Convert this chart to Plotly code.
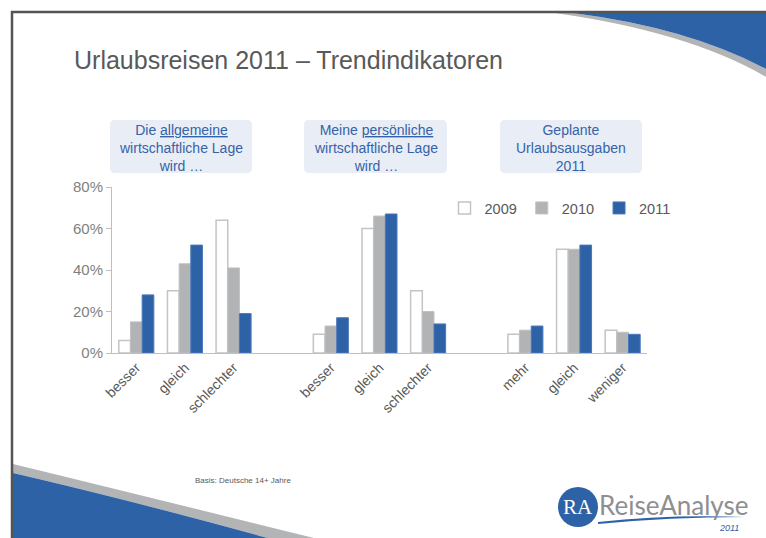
import plotly.graph_objects as go

# ---------------- data ----------------
years = ["2009", "2010", "2011"]
group_titles = [
    "Die <u>allgemeine</u><br>wirtschaftliche Lage<br>wird …",
    "Meine <u>persönliche</u><br>wirtschaftliche Lage<br>wird …",
    "Geplante<br>Urlaubsausgaben<br>2011",
]
cat_labels = [
    ["besser", "gleich", "schlechter"],
    ["besser", "gleich", "schlechter"],
    ["mehr", "gleich", "weniger"],
]
v2009 = [6, 30, 64, 9, 60, 30, 9, 50, 11]
v2010 = [15, 43, 41, 13, 66, 20, 11, 50, 10]
v2011 = [28, 52, 19, 17, 67, 14, 13, 52, 9]
y_ticks = [0, 20, 40, 60, 80]
title_text = "Urlaubsreisen 2011 – Trendindikatoren"
footnote = "Basis: Deutsche 14+ Jahre"

# ---------------- layout helpers ----------------
W, H = 766, 538
L, R, T, B = 112, 647, 187, 353


def px(x):
    return (x - L) / (R - L)


def py(y):
    return (B - y) / (B - T)


def path(cmds):
    out = []
    for c in cmds:
        if isinstance(c, str):
            out.append(c)
        else:
            out.append(f"{px(c[0]):.5f},{py(c[1]):.5f}")
    return " ".join(out)


def rounded_rect(x0, y0, x1, y1, r):
    return path([
        "M", (x0 + r, y0), "L", (x1 - r, y0), "Q", (x1, y0), (x1, y0 + r),
        "L", (x1, y1 - r), "Q", (x1, y1), (x1 - r, y1),
        "L", (x0 + r, y1), "Q", (x0, y1), (x0, y1 - r),
        "L", (x0, y0 + r), "Q", (x0, y0), (x0 + r, y0), "Z",
    ])


# x positions: three groups of three categories separated by an empty slot
xpos, xtext = [], []
for g, labs in enumerate(cat_labels):
    for i, lab in enumerate(labs):
        xpos.append(g * 4 + i)
        xtext.append(lab)

BLUE = "#2e62a7"
GREY = "#b2b3b5"
TXT = "#595959"
FONT = "Liberation Sans, Arial, sans-serif"

fig = go.Figure()
fig.add_trace(go.Bar(x=xpos, y=v2009, name=years[0],
                     marker=dict(color="white", line=dict(color="#c4c4c4", width=1.5))))
fig.add_trace(go.Bar(x=xpos, y=v2010, name=years[1],
                     marker=dict(color=GREY, line=dict(color="#c0c1c3", width=1))))
fig.add_trace(go.Bar(x=xpos, y=v2011, name=years[2],
                     marker=dict(color=BLUE, line=dict(color="#4a78b8", width=1))))

shapes = []
# page frame
shapes.append(dict(type="line", xref="paper", yref="paper",
                   x0=px(12), x1=px(12), y0=py(11), y1=py(540),
                   line=dict(color="#555555", width=2.5)))
shapes.append(dict(type="line", xref="paper", yref="paper",
                   x0=px(11), x1=px(770), y0=py(12), y1=py(12),
                   line=dict(color="#555555", width=2.5)))
# top-right swoosh
shapes.append(dict(type="path", xref="paper", yref="paper", layer="below",
                   path=path(["M", (555, 13), "Q", (690, 32), (768, 78),
                              "L", (768, 70), "Q", (690, 28), (573, 13), "Z"]),
                   fillcolor="#b3b4b6", line=dict(width=0)))
shapes.append(dict(type="path", xref="paper", yref="paper", layer="below",
                   path=path(["M", (573, 13), "Q", (690, 28), (768, 70),
                              "L", (768, 13), "Z"]),
                   fillcolor=BLUE, line=dict(width=0)))
# bottom-left swoosh
shapes.append(dict(type="path", xref="paper", yref="paper", layer="below",
                   path=path(["M", (13, 464), "Q", (140, 495), (322, 540),
                              "L", (275, 540), "Q", (130, 500), (13, 473), "Z"]),
                   fillcolor="#b3b4b6", line=dict(width=0)))
shapes.append(dict(type="path", xref="paper", yref="paper", layer="below",
                   path=path(["M", (13, 473), "Q", (130, 500), (275, 540),
                              "L", (13, 540), "Z"]),
                   fillcolor=BLUE, line=dict(width=0)))
# group title boxes
boxes = [(110, 120, 252, 173), (304, 120, 447, 173), (500, 120, 642, 173)]
for (x0, y0, x1, y1) in boxes:
    shapes.append(dict(type="path", xref="paper", yref="paper", layer="below",
                       path=rounded_rect(x0, y0, x1, y1, 5),
                       fillcolor="#e9edf6", line=dict(width=0)))
# logo
shapes.append(dict(type="circle", xref="paper", yref="paper",
                   x0=px(558), x1=px(598), y0=py(487), y1=py(527),
                   fillcolor=BLUE, line=dict(width=0)))
shapes.append(dict(type="path", xref="paper", yref="paper",
                   path=path(["M", (598, 522), "Q", (670, 514), (745, 517),
                              "Q", (670, 517), (598, 524), "Z"]),
                   fillcolor=BLUE, line=dict(width=0)))

annotations = []
annotations.append(dict(text=title_text, xref="paper", yref="paper",
                        x=px(72), y=py(60), xanchor="left", yanchor="middle",
                        showarrow=False, font=dict(family=FONT, size=25, color=TXT)))
for (x0, y0, x1, y1), t in zip(boxes, group_titles):
    annotations.append(dict(text=t, xref="paper", yref="paper",
                            x=px((x0 + x1) / 2), y=py((y0 + y1) / 2 + 1),
                            xanchor="center", yanchor="middle", showarrow=False,
                            align="center",
                            font=dict(family=FONT, size=14, color="#3563a8")))
annotations.append(dict(text=footnote, xref="paper", yref="paper",
                        x=px(193), y=py(480), xanchor="left", yanchor="middle",
                        showarrow=False, font=dict(family=FONT, size=8, color=TXT)))
annotations.append(dict(text="RA", xref="paper", yref="paper",
                        x=px(578), y=py(507), xanchor="center", yanchor="middle",
                        showarrow=False,
                        font=dict(family="Liberation Serif, serif", size=21, color="white")))
annotations.append(dict(text="ReiseAnalyse", xref="paper", yref="paper",
                        x=px(597), y=py(505), xanchor="left", yanchor="middle",
                        showarrow=False,
                        font=dict(family="Lato, Open Sans, sans-serif", size=26, color="#8e8f91")))
annotations.append(dict(text="<i>2011</i>", xref="paper", yref="paper",
                        x=px(741), y=py(528), xanchor="right", yanchor="middle",
                        showarrow=False,
                        font=dict(family=FONT, size=9, color=BLUE)))

fig.update_layout(
    width=W, height=H,
    margin=dict(l=L, r=W - R, t=T, b=H - B, pad=0),
    paper_bgcolor="white", plot_bgcolor="white",
    barmode="group", bargap=0.28, bargroupgap=0,
    showlegend=True,
    legend=dict(orientation="h", x=px(560), y=py(208), xanchor="center", yanchor="middle",
                font=dict(family=FONT, size=14.5, color=TXT), itemwidth=30,
                bgcolor="rgba(0,0,0,0)", traceorder="normal", itemclick=False),
    xaxis=dict(range=[-0.5, 10.5], tickmode="array", tickvals=xpos, ticktext=xtext,
               tickangle=-45, showgrid=False, zeroline=False, showline=True,
               linecolor="#bfbfbf", linewidth=1, ticks="",
               tickfont=dict(family=FONT, size=14, color=TXT)),
    yaxis=dict(range=[0, 80], tickmode="array", tickvals=y_ticks,
               ticktext=[f"{v}%" for v in y_ticks], showgrid=False, zeroline=False,
               showline=True, linecolor="#bfbfbf", linewidth=1,
               ticks="outside", ticklen=5, tickcolor="#bfbfbf",
               tickfont=dict(family=FONT, size=15, color="#7f7f7f")),
    shapes=shapes, annotations=annotations,
    font=dict(family=FONT),
)

fig.write_html("out.html", config={"displayModeBar": False},
               post_script="document.body.style.margin='0px';")
